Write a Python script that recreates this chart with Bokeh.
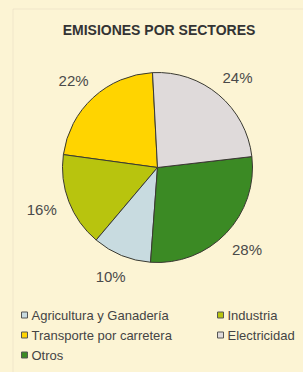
import numpy as np
from bokeh.plotting import figure
from bokeh.models import Range1d, BoxAnnotation, ColumnDataSource
from bokeh.core.properties import value
from bokeh.embed import file_html
from bokeh.resources import INLINE

title = "EMISIONES POR SECTORES"
categories = ["Agricultura y Ganadería", "Industria", "Transporte por carretera", "Electricidad", "Otros"]
values = [10, 16, 22, 24, 28]
colors = ["#c8dbe0", "#b8c40e", "#ffd400", "#dfdada", "#3b8a24"]
pie_order = [2, 1, 0, 4, 3]  # counter-clockwise from the top
start_deg = 93.0

BG = "#fcf4d4"
W, H = 303, 372
p = figure(width=W, height=H, output_backend="svg", toolbar_location=None,
           x_range=Range1d(0, W), y_range=Range1d(0, H), min_border=0)
p.axis.visible = False
p.grid.visible = False
p.outline_line_color = None
p.background_fill_color = BG
p.border_fill_color = BG

p.add_layout(BoxAnnotation(left=12.5, right=700, top=363.5, bottom=-200,
                           fill_alpha=0, line_color="#d4cbb2", line_width=1))

# pie
cx, cy, R = 157, 205, 95
vals = np.array([values[i] for i in pie_order], dtype=float)
frac = vals / vals.sum()
ends = np.deg2rad(start_deg) + 2 * np.pi * np.cumsum(frac)
starts = ends - 2 * np.pi * frac
mids = (starts + ends) / 2
src = ColumnDataSource(dict(
    s=starts, e=ends, c=[colors[i] for i in pie_order],
    lx=cx + 124 * np.cos(mids), ly=cy + 118 * np.sin(mids),
    t=["%d%%" % values[i] for i in pie_order]))
p.wedge(x=cx, y=cy, radius=R, start_angle="s", end_angle="e", fill_color="c",
        line_color="#3a3a32", line_width=1, source=src)
p.text(x="lx", y="ly", text="t", source=src, text_font=value("Liberation Sans"),
       text_font_size="15px", text_color="#4a4a4a", text_align="center",
       text_baseline="middle")

# title
p.text(x=[158.5], y=[342.5], text=[title], text_font=value("Liberation Sans"),
       text_font_size="14px", text_font_style="bold", text_color="#333333",
       text_align="center", text_baseline="middle")

# legend (row-major, two columns)
col_x = [24, 220]
row_y = [57.5, 37.5, 17.5]
lx = [col_x[i % 2] for i in range(len(categories))]
ly = [row_y[i // 2] for i in range(len(categories))]
p.rect(x=lx, y=ly, width=6, height=6, fill_color=colors, line_color="#555555",
       line_width=1)
p.text(x=[x + 7 for x in lx], y=ly, text=categories, text_font=value("Liberation Sans"),
       text_font_size="13px", text_color="#444444", text_align="left",
       text_baseline="middle")

html = file_html(p, INLINE)
html = html.replace("<head>", "<head><style>body{background:%s}</style>" % BG, 1)
open("out.html", "w").write(html)
